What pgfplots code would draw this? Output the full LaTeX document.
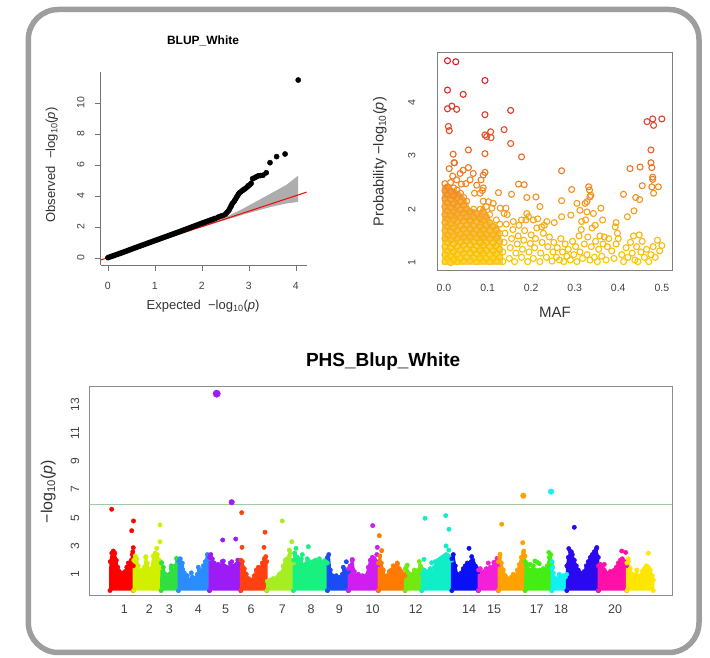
\documentclass[border=0pt]{standalone}
\usepackage{fontspec}
\setmainfont{Liberation Sans}
\usepackage{pgfplots}
\pgfplotsset{compat=1.18}

\definecolor{c1}{HTML}{FF0000}
\definecolor{c2}{HTML}{D0F000}
\definecolor{c3}{HTML}{30E040}
\definecolor{c4}{HTML}{2A8CFF}
\definecolor{c5}{HTML}{9D1CF5}
\definecolor{c6}{HTML}{FF4010}
\definecolor{c7}{HTML}{A6EE22}
\definecolor{c8}{HTML}{18F080}
\definecolor{c9}{HTML}{1A4CF5}
\definecolor{c10}{HTML}{D01EF0}
\definecolor{c11}{HTML}{FF7A00}
\definecolor{c12}{HTML}{70EA10}
\definecolor{c13}{HTML}{10EEC8}
\definecolor{c14}{HTML}{0A10F5}
\definecolor{c15}{HTML}{F420D8}
\definecolor{c16}{HTML}{FFA200}
\definecolor{c17}{HTML}{44EE14}
\definecolor{c18}{HTML}{10F0F5}
\definecolor{c19}{HTML}{2A08F0}
\definecolor{c20}{HTML}{FF10A8}
\definecolor{c21}{HTML}{FFE600}
\definecolor{bandA}{RGB}{250,212,80}
\definecolor{bandB}{RGB}{248,192,72}
\definecolor{bandC}{RGB}{246,176,68}
\definecolor{bandD}{RGB}{244,160,62}

\pgfplotsset{
  colormap={maf}{rgb255=(250,200,0) rgb255=(245,160,30) rgb255=(235,110,40) rgb255=(225,55,45) rgb255=(220,25,45)},
  /pgf/number format/assume math mode=true,
}

% one chromosome: dense core as an area, its edge and outliers as dots
\newcommand{\chrom}[3]{%
  \addplot[fill=#1, draw=#1, line width=2pt, line join=round] coordinates {#2};
  \addplot[only marks, mark=*, mark size=2.2pt, color=#1] coordinates {#2 #3};
}

\begin{document}
\begin{tikzpicture}[x=1pt,y=1pt]
\useasboundingbox (0,0) rectangle (710,658);
\draw[line width=5.5pt, color=black!38, rounded corners=30pt] (28.3,5.5) rectangle (699,648.5);

% ---------------- QQ plot ----------------
\begin{axis}[
  at={(100.7pt,393pt)}, anchor=south west, scale only axis,
  width=206pt, height=192.7pt,
  xmin=-0.15, xmax=4.23, ymin=-0.47, ymax=11.96,
  axis x line*=bottom, axis y line*=left,
  axis line style={draw=black!55, -},
  xtick={0,1,2,3,4}, ytick={0,2,4,6,8,10},
  tick align=outside, major tick length=6pt, tick style={black!55},
  xticklabel style={font=\fontsize{10.5}{12}\selectfont, text=black!75, anchor=center, yshift=-14.5pt},
  yticklabel style={font=\fontsize{10.5}{12}\selectfont, text=black!75, xshift=-14pt, rotate=90, anchor=center},
  title={BLUP\_White},
  title style={font=\fontsize{12}{14}\selectfont\bfseries, at={(axis description cs:0.497,1.162)}, anchor=center, yshift=-6pt},
  xlabel={Expected \ −log\textsubscript{10}(\textit{p})},
  xlabel style={font=\fontsize{13}{15}\selectfont, text=black!80, at={(axis description cs:0.497,-0.213)}, anchor=center},
  ylabel={Observed \ −log\textsubscript{10}(\textit{p})},
  ylabel style={font=\fontsize{13}{15}\selectfont, text=black!80, at={(axis description cs:-0.238,0.519)}, anchor=center},
]
\addplot[fill=black!32, draw=none] coordinates {
  (2.0,2.05) (2.3,2.38) (2.6,2.75) (2.9,3.2) (3.2,3.7) (3.5,4.2) (3.8,4.7) (4.05,5.3)
  (4.05,3.6) (3.8,3.5) (3.5,3.3) (3.2,3.05) (2.9,2.8) (2.6,2.52) (2.3,2.25) (2.0,1.98)};
\addplot[red, line width=1pt] coordinates {(-0.15,-0.15) (4.23,4.23)};
\addplot[black, line width=5.5pt, line cap=round] coordinates {
  (0,0) (0.3,0.32) (0.6,0.66) (1,1.1) (1.5,1.65) (2,2.22) (2.3,2.55)};
\addplot[only marks, mark=*, mark size=2.6pt, black] coordinates {
  (2.35,2.62) (2.4,2.68) (2.45,2.72) (2.5,2.8) (2.53,2.9) (2.56,3.0) (2.58,3.08)
  (2.6,3.2) (2.62,3.3) (2.63,3.4) (2.65,3.5) (2.68,3.6) (2.7,3.7) (2.72,3.8)
  (2.74,3.9) (2.76,4.0) (2.78,4.1) (2.8,4.18) (2.83,4.25) (2.86,4.32) (2.88,4.37)
  (2.91,4.43) (2.94,4.5) (2.97,4.58) (2.99,4.65) (3.02,4.7) (3.05,4.8) (3.08,5.1)
  (3.12,5.15) (3.16,5.22) (3.2,5.28) (3.25,5.3) (3.3,5.32) (3.37,5.48)
  (3.45,6.13) (3.59,6.52) (3.77,6.69) (4.05,11.46)};
\end{axis}

% ---------------- MAF plot ----------------
\begin{axis}[
  at={(437.3pt,387.3pt)}, anchor=south west, scale only axis,
  width=235pt, height=218pt,
  xmin=-0.0154, xmax=0.524, ymin=0.85, ymax=4.93,
  axis line style={draw=black!50},
  xtick={0,0.1,0.2,0.3,0.4,0.5}, ytick={1,2,3,4},
  tick style={draw=none}, major tick length=0pt,
  xticklabel style={font=\fontsize{10.5}{12}\selectfont, text=black!75, anchor=center, yshift=-17.6pt,
    /pgf/number format/.cd, fixed, fixed zerofill, precision=1},
  yticklabel style={font=\fontsize{10.5}{12}\selectfont, text=black!75, xshift=-25.6pt, rotate=90, anchor=center},
  xlabel={MAF},
  xlabel style={font=\fontsize{15}{17}\selectfont, text=black!80, at={(axis description cs:0.501,-0.193)}, anchor=center},
  ylabel={Probability −log\textsubscript{10}(\textit{p})},
  ylabel style={font=\fontsize{14.5}{17}\selectfont, text=black!80, at={(axis description cs:-0.244,0.5)}, anchor=center},
  colormap name=maf, point meta min=1, point meta max=4.8,
]
\addplot[fill=bandD, draw=none] coordinates {(-0.004,0.97) (-0.004,2.45) (0.01,2.45) (0.02,2.4) (0.03,2.35) (0.04,2.3) (0.05,2.2) (0.06,2.0) (0.07,2.0) (0.08,1.95) (0.09,2.1) (0.1,1.9) (0.11,1.75) (0.12,1.7) (0.13,1.6) (0.135,0.97)};
\addplot[fill=bandC, draw=none] coordinates {(-0.004,0.97) (-0.004,2.2) (0.05,2.2) (0.06,2.0) (0.07,2.0) (0.08,1.95) (0.09,2.1) (0.1,1.9) (0.11,1.75) (0.12,1.7) (0.13,1.6) (0.135,0.97)};
\addplot[fill=bandB, draw=none] coordinates {(-0.004,0.97) (-0.004,1.8) (0.105,1.8) (0.11,1.75) (0.12,1.7) (0.13,1.6) (0.135,0.97)};
\addplot[fill=bandA, draw=none] coordinates {(-0.004,0.97) (-0.004,1.4) (0.133,1.4) (0.135,0.97)};
\addplot[scatter, only marks, mark=o, mark size=3pt, mark options={line width=1.1pt},
  point meta=y, scatter/use mapped color={draw=mapped color, fill=none}] coordinates {
  (0.002,1.02)(0.002,1.15)(0.002,1.30)(0.002,1.45)(0.002,1.60)(0.002,1.75)(0.002,1.90)(0.002,2.05)(0.002,2.20)(0.002,2.35)(0.002,2.48)
  (0.008,1.08)(0.008,1.22)(0.008,1.38)(0.008,1.52)(0.008,1.68)(0.008,1.82)(0.008,1.97)(0.008,2.12)(0.008,2.28)(0.008,2.42)
  (0.015,1.00)(0.015,1.12)(0.015,1.27)(0.015,1.42)(0.015,1.58)(0.015,1.72)(0.015,1.88)(0.015,2.03)(0.015,2.18)(0.015,2.33)(0.015,2.50)
  (0.022,1.05)(0.022,1.20)(0.022,1.35)(0.022,1.50)(0.022,1.65)(0.022,1.80)(0.022,1.95)(0.022,2.10)(0.022,2.25)(0.022,2.40)
  (0.030,1.02)(0.030,1.16)(0.030,1.31)(0.030,1.46)(0.030,1.61)(0.030,1.77)(0.030,1.92)(0.030,2.07)(0.030,2.22)(0.030,2.36)
  (0.038,1.08)(0.038,1.23)(0.038,1.38)(0.038,1.53)(0.038,1.69)(0.038,1.84)(0.038,1.99)(0.038,2.14)(0.038,2.30)
  (0.045,1.03)(0.045,1.18)(0.045,1.33)(0.045,1.48)(0.045,1.63)(0.045,1.78)(0.045,1.93)(0.045,2.08)(0.045,2.22)
  (0.052,1.10)(0.052,1.25)(0.052,1.40)(0.052,1.55)(0.052,1.70)(0.052,1.85)(0.052,2.00)(0.052,2.15)
  (0.060,1.04)(0.060,1.19)(0.060,1.34)(0.060,1.49)(0.060,1.64)(0.060,1.80)(0.060,1.96)
  (0.068,1.09)(0.068,1.24)(0.068,1.39)(0.068,1.54)(0.068,1.69)(0.068,1.85)(0.068,2.00)
  (0.075,1.02)(0.075,1.17)(0.075,1.32)(0.075,1.47)(0.075,1.62)(0.075,1.77)(0.075,1.92)
  (0.083,1.07)(0.083,1.22)(0.083,1.37)(0.083,1.52)(0.083,1.67)(0.083,1.82)(0.083,2.00)(0.083,2.30)
  (0.090,1.03)(0.090,1.18)(0.090,1.33)(0.090,1.48)(0.090,1.63)(0.090,1.80)(0.090,1.95)(0.090,2.15)(0.090,2.40)
  (0.097,1.08)(0.097,1.23)(0.097,1.38)(0.097,1.53)(0.097,1.70)(0.097,1.86)(0.097,2.05)
  (0.105,1.02)(0.105,1.15)(0.105,1.30)(0.105,1.45)(0.105,1.60)(0.105,1.75)(0.105,1.90)
  (0.113,1.08)(0.113,1.22)(0.113,1.37)(0.113,1.52)(0.113,1.68)
  (0.120,1.03)(0.120,1.17)(0.120,1.32)(0.120,1.47)(0.120,1.62)(0.120,1.80)
  (0.128,1.10)(0.128,1.25)(0.128,1.40)(0.128,1.55)(0.128,1.72)
  (0.135,1.02)(0.135,1.20)(0.138,1.38)(0.140,1.55)(0.143,1.72)(0.145,1.90)
  (0.150,1.08)(0.152,1.28)(0.155,1.45)(0.158,1.62)
  (0.162,1.02)(0.165,1.18)(0.168,1.35)(0.170,1.50)(0.172,1.70)
  (0.178,1.10)(0.180,1.25)(0.183,1.42)(0.185,1.60)(0.188,1.80)
  (0.192,1.02)(0.195,1.20)(0.198,1.36)(0.200,1.52)
  (0.205,1.08)(0.208,1.28)(0.210,1.45)(0.213,1.65)(0.215,1.82)
  (0.220,1.02)(0.222,1.18)(0.225,1.38)(0.228,1.55)(0.230,1.70)
  (0.235,1.10)(0.238,1.30)(0.242,1.48)
  (0.248,1.03)(0.250,1.20)(0.252,1.38)
  (0.258,1.10)(0.260,1.28)(0.265,1.05)(0.268,1.45)(0.272,1.20)(0.275,1.02)(0.278,1.35)
  (0.282,1.12)(0.285,1.25)(0.290,1.05)(0.295,1.40)(0.298,1.15)(0.302,1.30)(0.305,1.02)
  (0.310,1.50)(0.312,1.20)(0.315,1.62)(0.318,1.08)(0.322,1.35)(0.325,1.80)(0.328,1.15)
  (0.330,1.48)(0.335,1.05)(0.338,1.30)(0.340,1.65)(0.345,1.10)(0.348,1.40)(0.352,1.02)
  (0.355,1.25)(0.358,1.50)(0.362,1.12)(0.365,1.35)(0.368,1.48)(0.372,1.05)(0.375,1.30)
  (0.378,1.45)(0.385,1.22)(0.390,1.08)(0.395,1.35)(0.400,1.45)(0.408,1.15)(0.412,1.02)
  (0.418,1.28)(0.422,1.10)(0.428,1.38)(0.432,1.18)(0.435,1.50)(0.438,1.05)(0.442,1.30)
  (0.445,1.02)(0.448,1.52)(0.452,1.20)(0.455,1.40)(0.460,1.10)(0.465,1.25)(0.470,1.02)
  (0.475,1.15)(0.480,1.30)(0.485,1.10)(0.490,1.42)(0.495,1.22)(0.500,1.32)
  (0.012,2.76)(0.023,2.87)(0.037,2.67)(0.044,2.73)(0.050,2.48)(0.029,2.55)(0.020,2.62)
  (0.060,2.55)(0.085,2.55)(0.088,2.35)(0.070,2.30)(0.075,2.45)(0.040,2.47)
  (0.224,1.67)(0.190,1.92)(0.205,1.80)(0.194,1.86)(0.178,1.80)(0.159,1.77)(0.138,1.92)
  (0.142,2.02)(0.129,2.02)(0.110,2.02)(0.102,2.14)(0.113,2.11)(0.125,2.31)(0.184,2.46)
  (0.171,2.47)(0.155,2.28)(0.190,2.22)(0.220,2.05)(0.211,2.23)(0.253,1.75)(0.236,1.77)
  (0.347,1.70)(0.364,1.80)(0.343,1.92)(0.316,1.77)(0.328,1.95)(0.312,1.98)(0.270,1.86)
  (0.291,1.89)(0.270,2.16)(0.293,2.37)(0.305,2.11)(0.328,2.14)(0.324,2.11)(0.337,2.26)
  (0.334,2.36)(0.332,2.42)(0.335,2.23)(0.360,2.02)(0.395,1.75)(0.393,1.67)(0.398,1.55)
  (0.421,1.86)(0.436,1.97)(0.412,2.28)(0.449,2.18)(0.440,2.22)(0.455,2.44)(0.492,2.42)
  (0.481,2.30)(0.477,2.42)(0.479,2.56)(0.479,2.60)(0.477,2.78)(0.475,2.87)(0.475,3.11)
  (0.500,3.69)(0.481,3.57)(0.479,3.69)(0.466,3.64)(0.450,2.79)(0.427,2.76)(0.270,2.72)
  (0.090,2.64)(0.094,2.69)(0.067,2.67)(0.056,2.78)(0.024,2.87)(0.021,3.03)(0.178,2.98)
  (0.094,3.04)(0.153,3.23)(0.138,3.49)(0.108,3.34)(0.107,3.45)(0.098,3.36)(0.094,3.39)
  (0.056,3.11)(0.012,3.47)(0.010,3.55)(0.153,3.85)(0.094,3.77)(0.029,3.87)(0.018,3.93)
  (0.008,3.88)(0.094,4.41)(0.044,4.15)(0.008,4.23)(0.027,4.76)(0.008,4.78)};
\end{axis}

% ---------------- Manhattan plot ----------------
\begin{axis}[
  at={(89.3pt,62.7pt)}, anchor=south west, scale only axis,
  width=583pt, height=208.6pt,
  xmin=0, xmax=583, ymin=-0.488, ymax=14.295,
  axis line style={draw=black!45},
  xtick={35,60,80,109,136.4,161.7,193,221.7,250,283.2,326.4,379.7,404.7,447.4,471.7,525.7},
  xticklabels={1,2,3,4,5,6,7,8,9,10,12,14,15,17,18,20},
  ytick={1,3,5,7,9,11,13},
  tick style={draw=none}, major tick length=0pt,
  xticklabel style={font=\fontsize{12.5}{14}\selectfont, text=black!75, anchor=center, yshift=-14pt},
  yticklabel style={font=\fontsize{12}{14}\selectfont, text=black!75, xshift=-14.3pt, rotate=90, anchor=center},
  title={PHS\_Blup\_White},
  title style={font=\fontsize{19}{22}\selectfont\bfseries, at={(axis description cs:0.504,1.118)}, anchor=center, yshift=-6pt},
  ylabel={−log\textsubscript{10}(\textit{p})},
  ylabel style={font=\fontsize{16}{18}\selectfont, text=black!80, at={(axis description cs:-0.0703,0.497)}, anchor=center},
]
\addplot[color={rgb,255:red,160;green,205;blue,160}, line width=0.9pt] coordinates {(0,5.93) (583,5.93)};
\chrom{c1}{(20.7,-0.15)(21,1.9)(22.5,2.5)(24,2.65)(25.5,2.5)(27,2.0)(28.5,1.5)(30,1.2)(32,1.0)(34,1.1)(36,1.2)(37.5,1.5)(39,1.8)(40.5,1.7)(42,2.0)(43,2.4)(44,1.6)(44,-0.15)}{(22.4,5.61)(42.4,4.09)(44.2,4.78)(44,2.89)(43.5,2.6)}
\chrom{c2}{(44.3,-0.15)(44.5,2.0)(46,2.3)(47.5,2.1)(49,1.6)(51,1.2)(53,1.3)(55,1.5)(56.5,2.2)(58,1.8)(60,1.2)(62,1.4)(64,2.3)(66,2.5)(68,2.4)(70,2.0)(71.7,1.5)(71.7,-0.15)}{(56.5,2.25)(70.7,4.5)(70.7,3.31)(67.4,2.84)}
\chrom{c3}{(71.9,-0.15)(72,1.8)(74,1.5)(76,1.0)(78,0.8)(80,1.0)(82,1.4)(84,1.1)(86,1.6)(87.5,2.1)(89,1.9)(89,-0.15)}{(72.4,1.82)(85.7,1.3)(87.4,2.13)(82,1.6)}
\chrom{c4}{(89.2,-0.15)(89.5,1.9)(91,2.1)(93,1.8)(95,1.1)(97,0.7)(100,0.6)(103,0.8)(106,0.7)(108,1.0)(110,1.3)(112,1.2)(114,1.6)(116,1.9)(118,2.4)(120,2.1)(120,-0.15)}{(93.5,1.3)(98,0.9)(102,1.1)(109,1.5)(116,1.3)}
\chrom{c5}{(120.3,-0.15)(120.3,2.2)(121.5,2.4)(123,2.1)(125,1.8)(127,1.6)(129,1.7)(131,1.5)(133,1.9)(135,1.6)(137,1.5)(139,1.4)(141,1.8)(143,1.6)(145,1.5)(147,1.7)(149,1.8)(151.4,1.9)(151.4,-0.15)}{(133.4,3.43)(146.4,3.5)(134,1.94)(142.4,1.89)(148.5,2.0)}
\chrom{c6}{(151.6,-0.15)(151.6,2.0)(153,1.9)(155,1.4)(157,1.0)(159,0.7)(161,0.6)(163,0.6)(165,0.9)(167,1.3)(169,1.5)(171,1.4)(173,1.8)(175,2.1)(177.4,1.9)(177.4,-0.15)}{(152.4,5.37)(152.7,2.91)(175.7,3.98)(174.7,2.91)(176.5,2.25)}
\chrom{c7}{(177.6,-0.15)(178,0.5)(180,0.3)(183,0.6)(186,0.5)(188,0.8)(190,1.0)(192,1.1)(194,1.6)(196,2.0)(198,2.1)(200,2.3)(202,2.0)(204,1.8)(204,-0.15)}{(193,4.78)(202.4,3.31)(200,2.72)(201,2.5)(181,0.6)(184,0.7)}
\chrom{c8}{(204.2,-0.15)(204.5,2.0)(206,2.3)(208,2.2)(210,1.9)(212,2.1)(214,1.5)(216,1.7)(218,2.1)(220,1.9)(222,1.6)(224,1.9)(226,2.0)(228,1.8)(230,2.1)(232,1.9)(234,1.7)(236,2.0)(238,1.8)(238,-0.15)}{(206.7,2.84)(219,2.96)(205.5,2.5)(213,2.4)}
\chrom{c9}{(238.2,-0.15)(238.2,2.2)(239.5,2.4)(241,1.3)(243,0.9)(245,0.7)(247,0.9)(249,0.6)(251,0.8)(253,1.0)(255,1.3)(257,1.1)(259,1.2)(259,-0.15)}{(257,1.89)(254,1.5)}
\chrom{c10}{(259.2,-0.15)(259.3,1.4)(261,1.6)(263,2.0)(265,1.2)(267,0.9)(269,1.0)(271,0.8)(273,0.9)(275,0.7)(277,0.9)(279,1.5)(281,2.0)(283,2.2)(285,2.1)(287,1.9)(289,1.7)(289,-0.15)}{(283.4,4.45)(288,2.91)(287.5,2.4)(263,2.05)}
\chrom{c11}{(289.2,-0.15)(289.2,1.8)(290.5,2.3)(292,1.8)(294,1.3)(296,0.8)(298,0.9)(300,1.2)(302,1.3)(304,1.6)(306,1.4)(308,1.7)(310,1.4)(312,1.2)(314,1.0)(315.7,0.9)(315.7,-0.15)}{(290,3.74)(292.4,2.68)(308,1.8)}
\chrom{c12}{(315.9,-0.15)(316,1.4)(317.5,1.6)(319,1.1)(321,0.9)(323,1.0)(325,1.2)(327,0.9)(329,1.3)(331,1.6)(332.4,1.4)(332.4,-0.15)}{(318,1.65)(325,1.3)(330,1.9)}
\chrom{c13}{(332.6,-0.15)(333,1.0)(335,1.3)(337,1.0)(339,1.2)(341,1.4)(343,1.1)(345,1.5)(347,1.7)(349,2.0)(351,2.1)(353,2.2)(355,2.3)(357,2.4)(359,2.3)(361,2.2)(362.4,2.0)(362.4,-0.15)}{(335.7,4.97)(356.4,5.16)(359.7,4.19)(356.7,3.01)(359.5,2.72)(334.7,2.06)(342.4,1.82)(346,1.9)}
\chrom{c14}{(362.6,-0.15)(362.6,2.1)(364,2.4)(366,1.6)(368,1.0)(370,0.8)(372,1.1)(374,1.4)(376,1.6)(378,1.8)(380,1.7)(382,1.9)(384,1.8)(386,1.6)(388,1.4)(389,1.2)(389,-0.15)}{(379.7,2.84)(382.4,2.25)(383.5,2.0)}
\chrom{c15}{(389.2,-0.15)(389.3,1.3)(391,1.4)(393,1.1)(395,1.2)(397,1.4)(399,1.3)(401,1.5)(403,1.4)(405,1.6)(407,1.9)(409,1.7)(409,-0.15)}{(404.5,1.84)(407.7,2.13)(399,1.8)}
\chrom{c16}{(409.2,-0.15)(409.2,1.9)(410.5,2.2)(412,1.8)(414,1.3)(416,0.9)(418,0.7)(420,0.6)(422,0.8)(424,1.0)(426,0.8)(428,1.3)(430,1.7)(432,2.2)(434,2.5)(435.7,2.3)(435.7,-0.15)}{(412.4,4.55)(433.4,3.24)(410.7,2.42)(434.5,2.65)}
\chrom{c17}{(435.9,-0.15)(436,1.9)(438,1.7)(440,1.3)(442,1.2)(444,1.4)(446,1.3)(448,1.1)(450,1.3)(452,1.2)(454,1.4)(456,1.3)(458,1.6)(460,2.2)(461.5,2.4)(462.4,1.8)(462.4,-0.15)}{(445.7,1.94)(448,1.85)(444,1.6)(441,1.7)(450,1.75)(459.5,2.55)}
\chrom{c18}{(462.6,-0.15)(462.6,1.4)(464,1.1)(466,0.7)(468,0.6)(470,0.8)(472,0.7)(474,0.9)(476,0.8)(477.4,1.0)(477.4,-0.15)}{(462.8,1.89)(463.5,1.5)(470,1.0)}
\chrom{c19}{(477.6,-0.15)(477.6,1.6)(479,2.2)(481,2.6)(483,2.4)(485,2.0)(487,1.6)(489,1.3)(491,1.1)(493,1.0)(495,1.2)(497,1.6)(499,1.9)(501,2.2)(503,2.4)(505,2.6)(507,2.8)(509,2.2)(509,-0.15)}{(485,4.33)(479.5,2.82)(482,2.6)(500.7,1.9)(507.5,2.9)}
\chrom{c20}{(509.2,-0.15)(509.2,1.6)(511,1.7)(513,1.5)(515,1.3)(517,1.1)(519,1.0)(521,1.2)(523,1.1)(525,1.3)(527,1.5)(529,1.8)(531,2.0)(533,2.1)(535,1.9)(537.4,1.6)(537.4,-0.15)}{(532.4,2.65)(536.4,2.55)(515,1.7)}
\chrom{c21}{(537.6,-0.15)(537.6,1.8)(539,1.9)(541,1.4)(543,1.0)(545,0.8)(547,1.0)(549,0.7)(551,0.9)(553,1.2)(555,1.4)(557,1.6)(559,1.5)(561,1.3)(563,0.9)(564,0.6)(564,-0.15)}{(559,2.5)(539,2.1)(547.5,1.3)}
\addplot[only marks, mark=*, mark size=3.7pt, color=c5] coordinates {(127.4,13.8)};
\addplot[only marks, mark=*, mark size=2.8pt, color=c5] coordinates {(142.4,6.11)};
\addplot[only marks, mark=*, mark size=2.8pt, color=c16] coordinates {(434,6.57)};
\addplot[only marks, mark=*, mark size=2.8pt, color=c18] coordinates {(461.7,6.86)};
\end{axis}
\end{tikzpicture}
\end{document}
